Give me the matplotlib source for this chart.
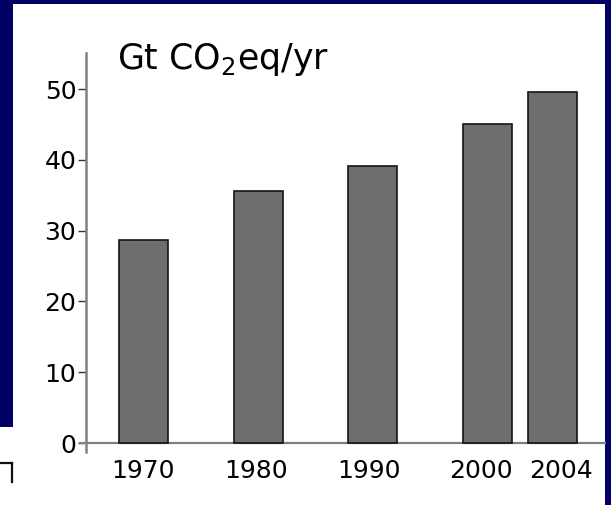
import matplotlib
matplotlib.use("Agg")
import matplotlib.pyplot as plt
from matplotlib.patches import Rectangle
from matplotlib.lines import Line2D

# ---- data ----
years = ["1970", "1980", "1990", "2000", "2004"]
emissions = [28.7, 35.6, 39.2, 45.0, 49.6]   # Gt CO2eq/yr
y_ticks = [0, 10, 20, 30, 40, 50]
unit_label = "Gt CO$_2$eq/yr"

# ---- layout (positions on the x axis, not data) ----
bar_pos = [0, 1, 2, 3, 3.57]
label_shift = [0, -0.02, -0.03, -0.05, 0.08]

W, H = 611, 505
fig = plt.figure(figsize=(W / 100, H / 100), dpi=100)
navy = "#000066"
fig.patch.set_facecolor(navy)

def px_rect(x0, y0, x1, y1, **kw):
    return Rectangle((x0 / W, 1 - y1 / H), (x1 - x0) / W, (y1 - y0) / H,
                     transform=fig.transFigure, **kw)

fig.add_artist(px_rect(12.5, 4, 605, 505, facecolor="white", edgecolor="none", zorder=-10))
fig.add_artist(px_rect(0, 427, 12.5, 505, facecolor="white", edgecolor="none", zorder=-10))
# small black corner mark bottom-left
fig.add_artist(Line2D([0 / W, 11.5 / W], [1 - 463 / H, 1 - 463 / H], color="#111111",
                      lw=1.6, transform=fig.transFigure))
fig.add_artist(Line2D([11.5 / W, 11.5 / W], [1 - 463 / H, 1 - 482 / H], color="#111111",
                      lw=1.6, transform=fig.transFigure))

ax = fig.add_axes([86 / W, 1 - 452 / H, (605 - 86) / W, (452 - 53) / H])
ax.set_facecolor("none")

ax.bar(bar_pos, emissions, width=0.428, color="#6e6e6e", edgecolor="#151515",
       linewidth=1.2, zorder=3)

ax.set_xlim(-0.502, 4.03)
ax.set_ylim(-1.27, 55.1)

for s in ["top", "right", "bottom"]:
    ax.spines[s].set_visible(False)
ax.spines["left"].set_color("#808080")
ax.spines["left"].set_linewidth(1.8)

ax.axhline(0, xmin=-0.012, xmax=1.0, color="#808080", lw=1.6, clip_on=False, zorder=2)

ax.set_yticks(y_ticks)
ax.set_yticklabels([str(v) for v in y_ticks])
ax.tick_params(axis="y", direction="out", length=5.5, width=1.0, color="#333333",
               pad=1.5, labelsize=18, labelcolor="black")

ax.set_xticks([p + s for p, s in zip(bar_pos, label_shift)])
ax.set_xticklabels(years)
ax.tick_params(axis="x", length=0, pad=5, labelsize=18, labelcolor="black")

for lab in ax.get_xticklabels() + ax.get_yticklabels():
    lab.set_fontfamily("DejaVu Sans")

fig.text(117 / W, 1 - 69 / H, unit_label, fontsize=25, family="DejaVu Sans",
         color="black", ha="left", va="baseline")

fig.savefig("out.png", dpi=100, facecolor=fig.get_facecolor())
